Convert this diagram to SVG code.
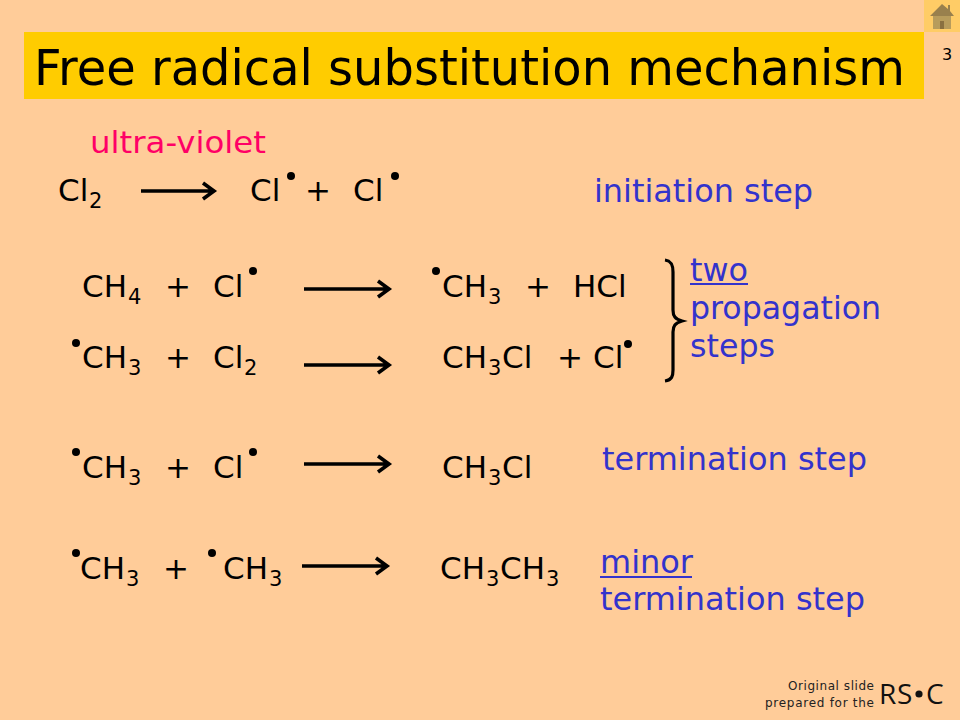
<svg xmlns="http://www.w3.org/2000/svg" width="960" height="720" viewBox="0 0 960 720">
<style>
text{font-family:"DejaVu Sans","Verdana",sans-serif;white-space:pre}
.e{font-size:31px;fill:#000}
.s{font-size:21px;fill:#000}
.b{font-size:32px;fill:#3333cc}
.a{fill:none;stroke:#000;stroke-width:3.6;stroke-linejoin:miter}
.u{stroke:#3333cc;stroke-width:2;fill:none}
</style>
<rect width="960" height="720" fill="#ffcc99"/>
<g id="home">
<rect x="924" y="0" width="36" height="32" fill="#ffcc66"/>
<path d="M930,16 L942,4 L948,9 L948,5 L950,5 L950,11 L954,16 Z" fill="#99804d"/>
<rect x="933" y="16" width="18" height="13" fill="#b89c5c"/>
<rect x="940" y="21" width="4" height="8" fill="#8a7040"/>
</g>
<text x="942" y="60" style="font-size:16px">3</text>
<g id="title">
<rect x="24" y="32" width="900" height="67" fill="#ffcc00"/>
<text x="34" y="85" style="font-size:49px" textLength="871" lengthAdjust="spacingAndGlyphs">Free radical substitution mechanism</text>
</g>
<text x="90" y="153" style="font-size:31px;fill:#ff0066" textLength="176" lengthAdjust="spacingAndGlyphs">ultra-violet</text>

<g id="connectors">
<path class="a" d="M141,191 H213 M203,183 L214,191 L203,199"/>
<path class="a" d="M304,289 H388 M378,281 L389,289 L378,297"/>
<path class="a" d="M304,365 H388 M378,357 L389,365 L378,373"/>
<path class="a" d="M304,464 H388 M378,456 L389,464 L378,472"/>
<path class="a" d="M302,566 H386 M376,558 L387,566 L376,574"/>
<path d="M665,260 C672,261 673,266 673,272 V310 C673,316 675,319 682,321 C675,323 673,326 673,332 V370 C673,376 672,380 665,381" fill="none" stroke="#000" stroke-width="3.2"/>
</g>

<g id="row1">
<text class="e" x="58" y="201">Cl</text><text class="s" x="89" y="208">2</text>
<text class="e" x="250" y="201">Cl</text><circle cx="291" cy="176" r="4"/>
<text class="e" x="305" y="201">+</text>
<text class="e" x="353" y="201">Cl</text><circle cx="395" cy="176" r="4"/>
</g>
<text id="initiation" class="b" x="594" y="202" textLength="219" lengthAdjust="spacingAndGlyphs">initiation step</text>

<g id="row2">
<text class="e" x="82" y="297">CH</text><text class="s" x="128" y="304">4</text>
<text class="e" x="165" y="297">+</text>
<text class="e" x="213" y="297">Cl</text><circle cx="253" cy="271" r="4"/>
<circle cx="436" cy="271" r="4"/>
<text class="e" x="442" y="297">CH</text><text class="s" x="488" y="304">3</text>
<text class="e" x="525" y="297">+</text>
<text class="e" x="573" y="297">HCl</text>
</g>

<g id="row3">
<circle cx="76" cy="343" r="4"/>
<text class="e" x="82" y="368">CH</text><text class="s" x="128" y="375">3</text>
<text class="e" x="165" y="368">+</text>
<text class="e" x="213" y="368">Cl</text><text class="s" x="244" y="375">2</text>
<text class="e" x="442" y="368">CH</text><text class="s" x="488" y="375">3</text>
<text class="e" x="502" y="368">Cl</text>
<text class="e" x="557" y="368">+</text>
<text class="e" x="593" y="368">Cl</text><circle cx="628" cy="344" r="4"/>
</g>

<g id="propagation">
<text class="b" x="690" y="281" textLength="58" lengthAdjust="spacingAndGlyphs">two</text><path class="u" d="M690,284 H748"/>
<text class="b" x="690" y="319" textLength="191" lengthAdjust="spacingAndGlyphs">propagation</text>
<text class="b" x="690" y="357" textLength="85" lengthAdjust="spacingAndGlyphs">steps</text>
</g>

<g id="row4">
<circle cx="76" cy="452" r="4"/>
<text class="e" x="82" y="478">CH</text><text class="s" x="128" y="485">3</text>
<text class="e" x="165" y="478">+</text>
<text class="e" x="213" y="478">Cl</text><circle cx="253" cy="452" r="4"/>
<text class="e" x="442" y="478">CH</text><text class="s" x="488" y="485">3</text>
<text class="e" x="502" y="478">Cl</text>
</g>
<text id="termination" class="b" x="602" y="470" textLength="265" lengthAdjust="spacingAndGlyphs">termination step</text>

<g id="row5">
<circle cx="76" cy="553" r="4"/>
<text class="e" x="80" y="579">CH</text><text class="s" x="126" y="586">3</text>
<text class="e" x="163" y="579">+</text>
<circle cx="212" cy="553" r="4"/>
<text class="e" x="223" y="579">CH</text><text class="s" x="269" y="586">3</text>
<text class="e" x="440" y="579">CH</text><text class="s" x="486" y="586">3</text>
<text class="e" x="500" y="579">CH</text><text class="s" x="546" y="586">3</text>
</g>
<g id="minor">
<text class="b" x="600" y="573" textLength="93" lengthAdjust="spacingAndGlyphs">minor</text><path class="u" d="M600,577 H692"/>
<text class="b" x="600" y="610" textLength="265" lengthAdjust="spacingAndGlyphs">termination step</text>
</g>

<g id="credit">
<text x="788" y="690" style="font-size:12px;fill:#222" textLength="86" lengthAdjust="spacing">Original slide</text>
<text x="765" y="707" style="font-size:12px;fill:#222" textLength="109" lengthAdjust="spacing">prepared for the</text>
<text x="879" y="704" style="font-size:28px;fill:#111;font-family:'Open Sans',sans-serif">R</text>
<text x="897" y="704" style="font-size:28px;fill:#111;font-family:'Open Sans',sans-serif">S</text>
<circle cx="919" cy="694" r="3.6" fill="#111"/>
<text x="926" y="704" style="font-size:28px;fill:#111;font-family:'Open Sans',sans-serif">C</text>
</g>
</svg>
